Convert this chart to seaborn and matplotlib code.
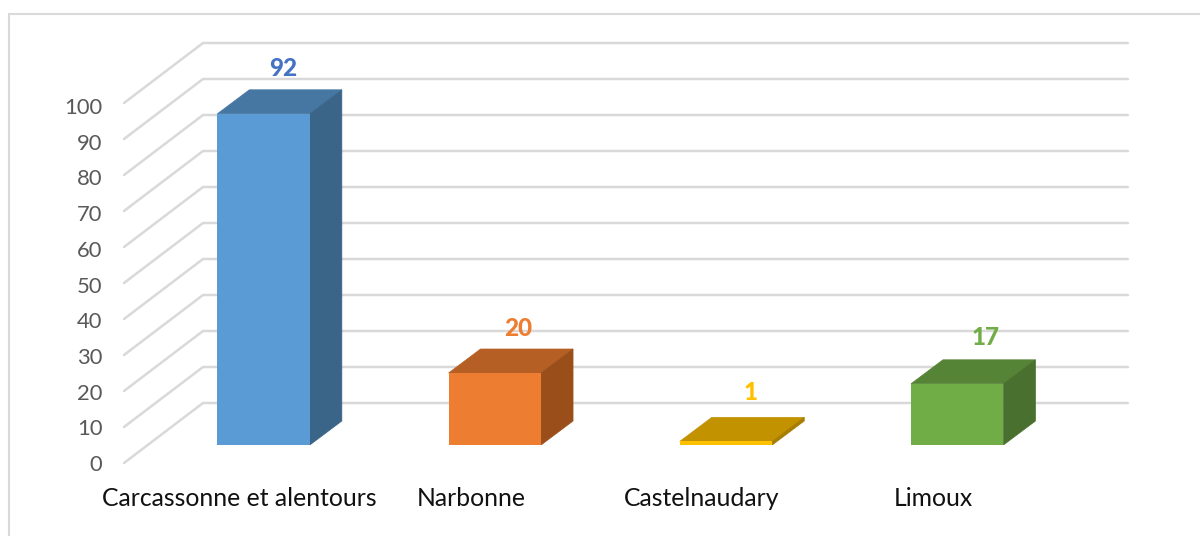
import matplotlib
matplotlib.use('Agg')
import matplotlib.pyplot as plt
from matplotlib.patches import Polygon, Rectangle
import pandas as pd
import seaborn as sns

categories = ['Carcassonne et alentours', 'Narbonne', 'Castelnaudary', 'Limoux']
values = [92, 20, 1, 17]
y_ticks = [0, 10, 20, 30, 40, 50, 60, 70, 80, 90, 100]

front_colors = ['#5B9BD5', '#ED7D31', '#FFC000', '#70AD47']
top_colors = ['#4676A2', '#B55F25', '#C29200', '#568436']
side_colors = ['#3A6488', '#9A4F1B', '#A67D00', '#49702E']
label_colors = ['#4472C4', '#ED7D31', '#FFC000', '#70AD47']
label_shift_x = [20, 23, 25, 28]  # pixels right of the bar centre
label_shift_y = [45, 44, 49, 46]  # pixels above the bar top

W, H = 1200, 536
GRID = '#D9D9D9'
PX_X = 231.2  # pixels per category
PX_Y = 3.6  # pixels per value unit

sns.set_theme(style='white')
plt.rcParams['font.family'] = ['Lato', 'DejaVu Sans']

df = pd.DataFrame({'lieu': categories, 'valeur': values})

fig = plt.figure(figsize=(W / 100, H / 100), dpi=100, facecolor='white')


def px_axes(left, right, bottom, top):
    # axes placed with pixel positions (y measured from the top of the picture)
    return fig.add_axes([left / W, 1 - bottom / H, (right - left) / W, (bottom - top) / H])


fig.add_artist(Rectangle((9 / W, -0.1), 1.1, 1.1 - 14 / H, transform=fig.transFigure,
                         fill=False, edgecolor=GRID, linewidth=1.5))

# Wall and floor lines, category labels
ax = px_axes(124, 124 + 4 * PX_X, 463, 463 - 100 * PX_Y)
ax.set_xlim(-0.5, 3.5)
ax.set_ylim(0, 100)
wall_dx = 79 / PX_X
wall_dy = 60 / PX_Y
for v in y_ticks:
    ax.plot([-0.5, -0.5 + wall_dx, 3.5 + wall_dx], [v, v + wall_dy, v + wall_dy],
            color=GRID, linewidth=1.8, clip_on=False, solid_joinstyle='miter')
ax.set_xticks(range(4), categories)
ax.set_yticks([])
ax.tick_params(axis='x', length=0, pad=17, labelsize=17.8, labelcolor='#111111')
sns.despine(ax=ax, left=True, bottom=True)

# The value scale is a little tighter than the wall lines in the original
ax_y = px_axes(124, 124 + 4 * PX_X, 463, 106)
ax_y.patch.set_visible(False)
ax_y.set_ylim(0, 100)
ax_y.set_xticks([])
ax_y.set_yticks(y_ticks)
ax_y.tick_params(axis='y', length=0, pad=15.5, labelsize=15.8, labelcolor='#595959')
sns.despine(ax=ax_y, left=True, bottom=True)

# Bars, sitting a little inside the floor
ax2 = px_axes(148, 148 + 4 * PX_X, 445, 445 - 100 * PX_Y)
ax2.patch.set_visible(False)
sns.barplot(data=df, x='lieu', y='valeur', hue='lieu', palette=front_colors, legend=False,
            width=0.4, saturation=1, ax=ax2, zorder=4, linewidth=0)
ax2.set_xlim(-0.5, 3.5)
ax2.set_ylim(0, 100)
ax2.axis('off')

depth_x = 32 / PX_X
depth_y = 24 / PX_Y
for i, bar in enumerate(list(ax2.patches)):
    x0 = bar.get_x()
    x1 = x0 + bar.get_width()
    h = bar.get_height()
    ax2.add_patch(Polygon([(x0, h), (x1, h), (x1 + depth_x, h + depth_y), (x0 + depth_x, h + depth_y)],
                          facecolor=top_colors[i], edgecolor=top_colors[i], linewidth=0.5, zorder=3))
    ax2.add_patch(Polygon([(x1, 0), (x1 + depth_x, depth_y), (x1 + depth_x, h + depth_y), (x1, h)],
                          facecolor=side_colors[i], edgecolor=side_colors[i], linewidth=0.5, zorder=3))
    ax2.annotate(str(values[i]), xy=(x0 + bar.get_width() / 2, h),
                 xytext=(label_shift_x[i] * 0.72, label_shift_y[i] * 0.72), textcoords='offset points',
                 ha='center', va='center', fontsize=17.5, fontweight='black',
                 color=label_colors[i], zorder=5)

fig.savefig('out.png', dpi=100)
